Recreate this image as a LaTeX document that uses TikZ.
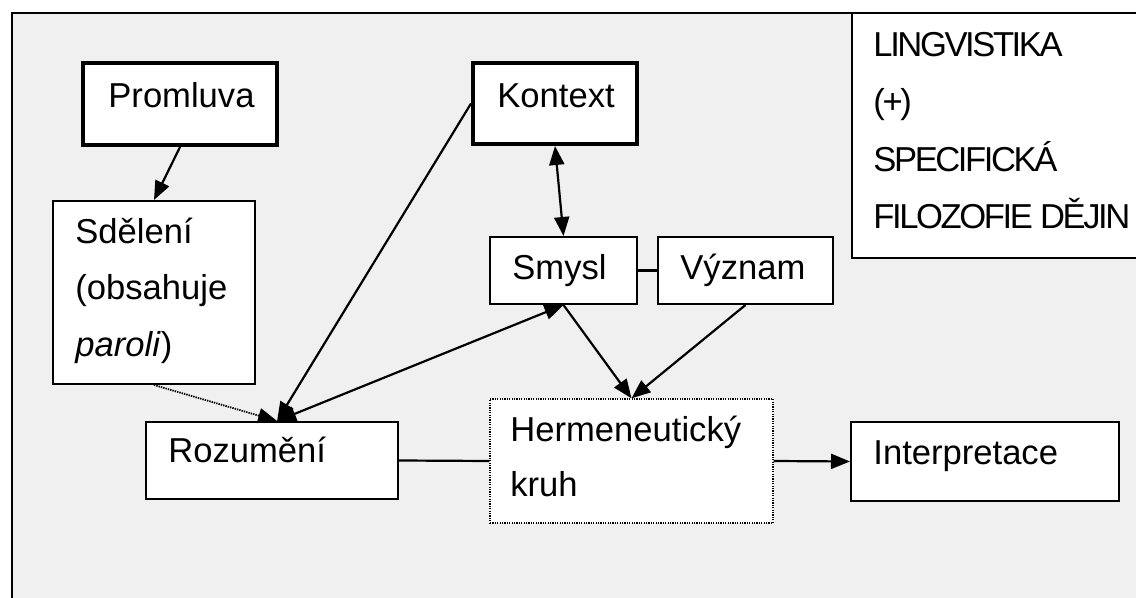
\documentclass[tikz,border=0pt]{standalone}
\usepackage{fontspec}
\setmainfont{Liberation Sans}
\usetikzlibrary{arrows.meta,fit,calc}
\begin{document}
\begin{tikzpicture}[x=0.5pt,y=-0.5pt,
  box/.style={draw, fill=white, line width=1pt, inner sep=0pt},
  thickbox/.style={box, line width=2pt},
  dotbox/.style={draw, fill=white, line width=0.7pt, dash pattern=on 0.6pt off 0.6pt, inner sep=0pt},
  txt/.style={anchor=base west, inner sep=0pt, font=\fontsize{17.3pt}{28pt}\selectfont},
  captxt/.style={txt, font=\fontsize{17.3pt}{28pt}\selectfont\addfontfeature{LetterSpace=-7}},
  conn/.style={line width=1.1pt},
  headtip/.style={Triangle[length=9.5pt,width=7.5pt]},
  arr/.style={conn, -{Triangle[length=9.5pt,width=7.5pt]}},
  barr/.style={conn, {Triangle[length=9.5pt,width=7.5pt]}-{Triangle[length=9.5pt,width=7.5pt]}},
  dotarr/.style={arr, line width=0.9pt, dash pattern=on 0.7pt off 0.5pt},
]
\useasboundingbox (0,0) rectangle (1136,598);
\clip (0,0) rectangle (1136,598);

% frame
\fill[white] (0,0) rectangle (1136,598);
\draw[line width=1pt, fill={rgb,255:red,240;green,240;blue,240}] (12,13) rectangle (1160,620);

% boxes
\node[thickbox, fit={(83,63)(277,145)}] (promluva) {};
\node[thickbox, fit={(473,63)(637,144)}] (kontext) {};
\node[box, fit={(852,13)(1160,258)}] (ling) {};
\node[box, fit={(53,201)(255,384)}] (sdeleni) {};
\node[box, fit={(490,237)(637,304)}] (smysl) {};
\node[box, fit={(658,237)(833,304)}] (vyznam) {};
\node[box, fit={(146,422)(398,499)}] (rozumeni) {};
\node[dotbox, fit={(490,399)(773,523)}] (herm) {};
\node[box, fit={(851,422)(1119,501)}] (interp) {};

% texts
\node[txt] (tpromluva) at (108,108) {Promluva};
\node[txt] (tkontext) at (497,108) {Kontext};
\node[txt] (tsd1) at (75,244) {Sdělení};
\node[txt] (tsd2) at (75,300) {(obsahuje};
\node[txt] (tsd3) at (75,357) {\textit{paroli})};
\node[txt] (tsmysl) at (512,280) {Smysl};
\node[txt] (tvyznam) at (680,280) {Význam};
\node[txt] (troz) at (168,463) {Rozumění};
\node[txt] (therm1) at (510,442) {Hermeneutický};
\node[txt] (therm2) at (510,497) {kruh};
\node[txt] (tinterp) at (873,465) {Interpretace};
\node[captxt] (tl1) at (873,57) {LINGVISTIKA};
\node[captxt] (tl2) at (873,114) {(+)};
\node[captxt] (tl3) at (873,172) {SPECIFICKÁ};
\node[captxt] (tl4) at (873,229) {FILOZOFIE DĚJIN};

% connectors
\coordinate (rtop) at ($(rozumeni.north west)!0.52!(rozumeni.north east)$);
\draw[arr] (promluva.south) -- (sdeleni.north);
\draw[barr] (kontext.south) -- (smysl.north);
\draw[arr] (kontext.west) -- (rtop);
\draw[barr] (rtop) -- (smysl.south);
\draw[dotarr] (sdeleni.south) -- (rtop);
\draw[arr] (smysl.south) -- (herm.north);
\draw[arr] (vyznam.south) -- (herm.north);
\draw[conn] (smysl.east) -- (vyznam.west);
\draw[conn] (rozumeni.east) -- (herm.west);
\draw[arr] (herm.east) -- (interp.west);
\end{tikzpicture}
\end{document}
